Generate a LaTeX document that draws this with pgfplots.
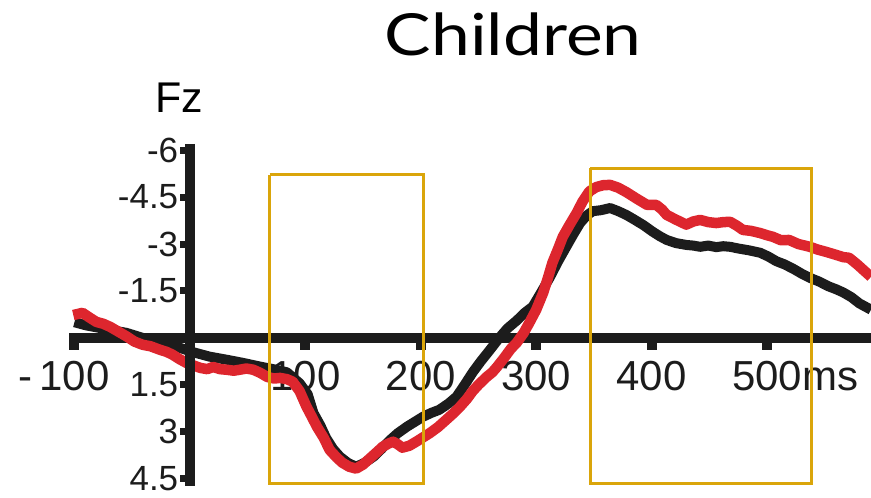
\documentclass[border=0pt]{standalone}
\usepackage{pgfplots}
\pgfplotsset{compat=1.18}
\usepackage{fontspec}
\setmainfont{Liberation Sans}
\newfontfamily\titlefont[FakeStretch=1.2]{Lato}

\definecolor{erpred}{RGB}{221,38,46}
\definecolor{erpblack}{RGB}{28,28,28}
\definecolor{winyellow}{RGB}{218,165,10}

% Grand-average ERP at Fz (microvolts, negative up)
\pgfplotstableread{
t v
-100 -0.50
-90 -0.40
-80 -0.33
-70 -0.26
-55 -0.16
-41 0.00
-26 0.13
-11 0.29
3 0.46
17 0.60
32 0.70
46 0.80
61 0.92
72 1.00
84 1.10
95 1.45
102 1.80
107 2.40
113 2.80
118 3.20
124 3.55
130 3.80
137 4.00
144 4.12
151 4.00
159 3.80
166 3.55
173 3.28
180 3.05
188 2.84
195 2.68
202 2.52
209 2.40
216 2.30
224 2.10
231 1.88
238 1.50
245 1.10
252 0.75
260 0.38
268 0.00
275 -0.30
283 -0.55
290 -0.80
297 -1.00
305 -1.50
312 -1.95
319 -2.45
326 -2.91
332 -3.30
338 -3.67
344 -3.92
349 -4.05
356 -4.08
364 -4.15
371 -4.05
378 -3.93
385 -3.78
393 -3.60
401 -3.39
407 -3.25
413 -3.13
421 -3.03
430 -2.97
436 -2.95
442 -2.91
449 -2.95
456 -2.90
462 -2.93
468 -2.91
476 -2.85
484 -2.80
494 -2.72
501 -2.60
508 -2.45
515 -2.35
523 -2.20
530 -2.05
537 -1.92
545 -1.80
553 -1.65
560 -1.55
566 -1.45
573 -1.30
580 -1.10
590 -0.90
}\erpblackdata

\pgfplotstableread{
t v
-101 -0.73
-93 -0.80
-87 -0.65
-81 -0.51
-75 -0.45
-69 -0.35
-62 -0.20
-55 -0.05
-48 0.12
-41 0.22
-34 0.27
-26 0.38
-20 0.45
-15 0.54
-9 0.68
-3 0.80
3 0.88
9 0.96
15 1.00
20 0.93
26 1.00
32 1.02
38 1.05
43 1.02
49 0.98
55 1.02
61 1.12
67 1.25
73 1.30
78 1.28
84 1.32
89 1.40
95 1.70
101 2.20
106 2.55
110 2.84
116 3.20
121 3.58
127 3.82
132 3.99
138 4.12
144 4.18
150 4.05
156 3.85
162 3.65
167 3.48
172 3.38
176 3.32
180 3.40
184 3.51
190 3.45
196 3.32
202 3.18
208 3.04
215 2.85
222 2.62
228 2.42
234 2.20
240 1.95
245 1.70
250 1.50
257 1.25
262 1.10
266 0.93
272 0.65
278 0.35
283 0.16
289 -0.15
294 -0.48
300 -0.90
306 -1.44
310 -1.90
314 -2.40
319 -2.85
323 -3.23
329 -3.62
335 -3.99
340 -4.35
346 -4.68
352 -4.82
358 -4.88
364 -4.89
371 -4.80
378 -4.66
387 -4.45
396 -4.25
404 -4.25
409 -4.10
413 -3.93
421 -3.78
430 -3.62
436 -3.72
442 -3.77
449 -3.70
456 -3.67
462 -3.70
468 -3.71
474 -3.58
479 -3.45
486 -3.42
494 -3.35
500 -3.28
505 -3.23
512 -3.12
519 -3.13
527 -3.00
537 -2.91
544 -2.82
551 -2.75
560 -2.65
566 -2.58
571 -2.56
578 -2.35
584 -2.15
590 -1.95
}\erpreddata

\begin{document}
\begin{tikzpicture}
\begin{axis}[
  scale only axis, width=802.1pt, height=342.7pt,
  xmin=-104.5, xmax=590, ymin=-6.2, ymax=4.75,
  y dir=reverse,
  clip mode=individual,
  axis lines=middle,
  axis line style={draw=none},
  tick align=outside,
  major tick length=11.5pt,
  xtick style={draw=none},
  ytick style={draw=none},
  xtick={-100,100,200,300,400,500},
  xticklabels={\llap{-\hspace{7pt}}100,100,200,300,400,500\rlap{ms}},
  ytick={-6,-4.5,-3,-1.5,1.5,3,4.5},
  yticklabels={-6,-4.5,-3,-1.5,1.5,3,4.5},
  xticklabel style={font=\fontsize{42}{42}\selectfont, anchor=base, inner sep=0pt, yshift=-41pt, text=erpblack},
  yticklabel style={font=\fontsize{35}{35}\selectfont, anchor=east, inner sep=0pt, text=erpblack},
]
% time axis and its ticks, underneath the waveforms
\draw[erpblack, line width=9.5pt] (axis cs:-104.5,0) -- (axis cs:590,0);
\pgfplotsinvokeforeach{-100,100,200,300,400,500}{
  \draw[erpblack, line width=10pt] (axis cs:#1,0) -- ++(0pt,-12.5pt);
}

\addplot[erpblack, line width=10pt, line join=round] table[x=t, y=v] {\erpblackdata};
\addplot[erpred, line width=10.5pt, line join=round] table[x=t, y=v] {\erpreddata};

% amplitude axis and its ticks, over the waveforms
\draw[erpblack, line width=9.5pt] (axis cs:0,-6.2) -- (axis cs:0,4.75);
\pgfplotsinvokeforeach{-6,-4.5,-3,-1.5,1.5,3,4.5}{
  \draw[erpblack, line width=7pt] (axis cs:0,#1) -- ++(-9.5pt,0pt);
}

% analysis windows
\addplot[winyellow, line width=3pt, line join=miter]
  coordinates {(69,-5.21) (202,-5.21) (202,4.67) (69,4.67) (69,-5.21)};
\addplot[winyellow, line width=3pt, line join=miter]
  coordinates {(347,-5.42) (538.5,-5.42) (538.5,4.67) (347,4.67) (347,-5.42)};

\node[anchor=base, inner sep=0pt, font=\titlefont\fontsize{58}{58}\selectfont] at (axis cs:280,-9.04) {Children};
\node[anchor=base, inner sep=0pt, font=\fontsize{43}{43}\selectfont] at (axis cs:-9.5,-7.19) {Fz};

\coordinate (bbA) at (axis cs:-164.5,-10.8);
\coordinate (bbB) at (axis cs:590,5.11);
\end{axis}
\pgfresetboundingbox
\path[use as bounding box] (bbA) rectangle (bbB);
\end{tikzpicture}
\end{document}
